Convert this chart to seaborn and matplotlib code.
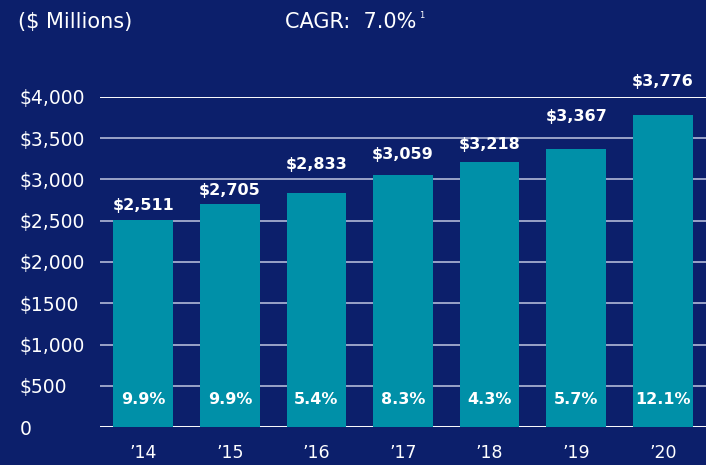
import matplotlib
matplotlib.use("Agg")
import matplotlib.pyplot as plt
import seaborn as sns
import pandas as pd

years = ["\u201914", "\u201915", "\u201916", "\u201917", "\u201918", "\u201919", "\u201920"]
revenue = [2511, 2705, 2833, 3059, 3218, 3367, 3776]
growth = ["9.9%", "9.9%", "5.4%", "8.3%", "4.3%", "5.7%", "12.1%"]
y_ticks = [0, 500, 1000, 1500, 2000, 2500, 3000, 3500, 4000]
y_tick_labels = ["0", "$500", "$1,000", "$1500", "$2,000", "$2,500", "$3,000", "$3,500", "$4,000"]
value_labels = ["$2,511", "$2,705", "$2,833", "$3,059", "$3,218", "$3,367", "$3,776"]
# gap between bar top and its value label, in points (labels were placed by hand)
label_gap = [5, 4, 15, 9, 7, 18, 19]

navy = "#0C1F6B"
teal = "#0090A8"

sns.set_style("dark")
plt.rcParams["font.family"] = ["DejaVu Sans"]

df = pd.DataFrame({"year": years, "revenue": revenue})

fig = plt.figure(figsize=(7.06, 4.65), dpi=100, facecolor=navy)
ax = fig.add_axes([100 / 706, 38 / 465, 606 / 706, 330 / 465])
ax.set_facecolor(navy)

# gridlines behind the bars
for t in y_ticks:
    col = "white" if t in (0, 4000) else "#9AA3C8"
    ax.axhline(t, color=col, lw=1.4, zorder=0)

sns.barplot(data=df, x="year", y="revenue", color=teal, width=0.69,
            saturation=1, linewidth=0, edgecolor=teal, ax=ax, zorder=2)

ax.set_xlim(-0.5, 6.5)
ax.set_ylim(0, 4000)
ax.set_yticks(y_ticks)
ax.set_yticklabels(y_tick_labels, ha="left")
ax.set_xlabel("")
ax.set_ylabel("")
for s in ax.spines.values():
    s.set_visible(False)
ax.grid(False)
ax.tick_params(axis="y", length=0, pad=58, labelcolor="white", labelsize=13.5)
ax.tick_params(axis="x", length=0, pad=12, labelcolor="white", labelsize=12.5)

for i, (v, lab, g, pct) in enumerate(zip(revenue, value_labels, label_gap, growth)):
    ax.annotate(lab, (i, v), xytext=(0, g), textcoords="offset points",
                ha="center", va="bottom", color="white", fontsize=11.5,
                fontweight="bold", annotation_clip=False)
    ax.text(i, 330, pct, ha="center", va="center", color="white",
            fontsize=11.5, fontweight="bold")

fig.text(18 / 706, 1 - 22 / 465, "($ Millions)", color="white", fontsize=15,
         va="center", ha="left")
fig.text(285 / 706, 1 - 22 / 465, "CAGR:  7.0%", color="white", fontsize=15,
         va="center", ha="left")
fig.text(419 / 706, 1 - 16 / 465, "1", color="white", fontsize=6,
         va="center", ha="left")

fig.savefig("out.png", dpi=100, facecolor=navy)
